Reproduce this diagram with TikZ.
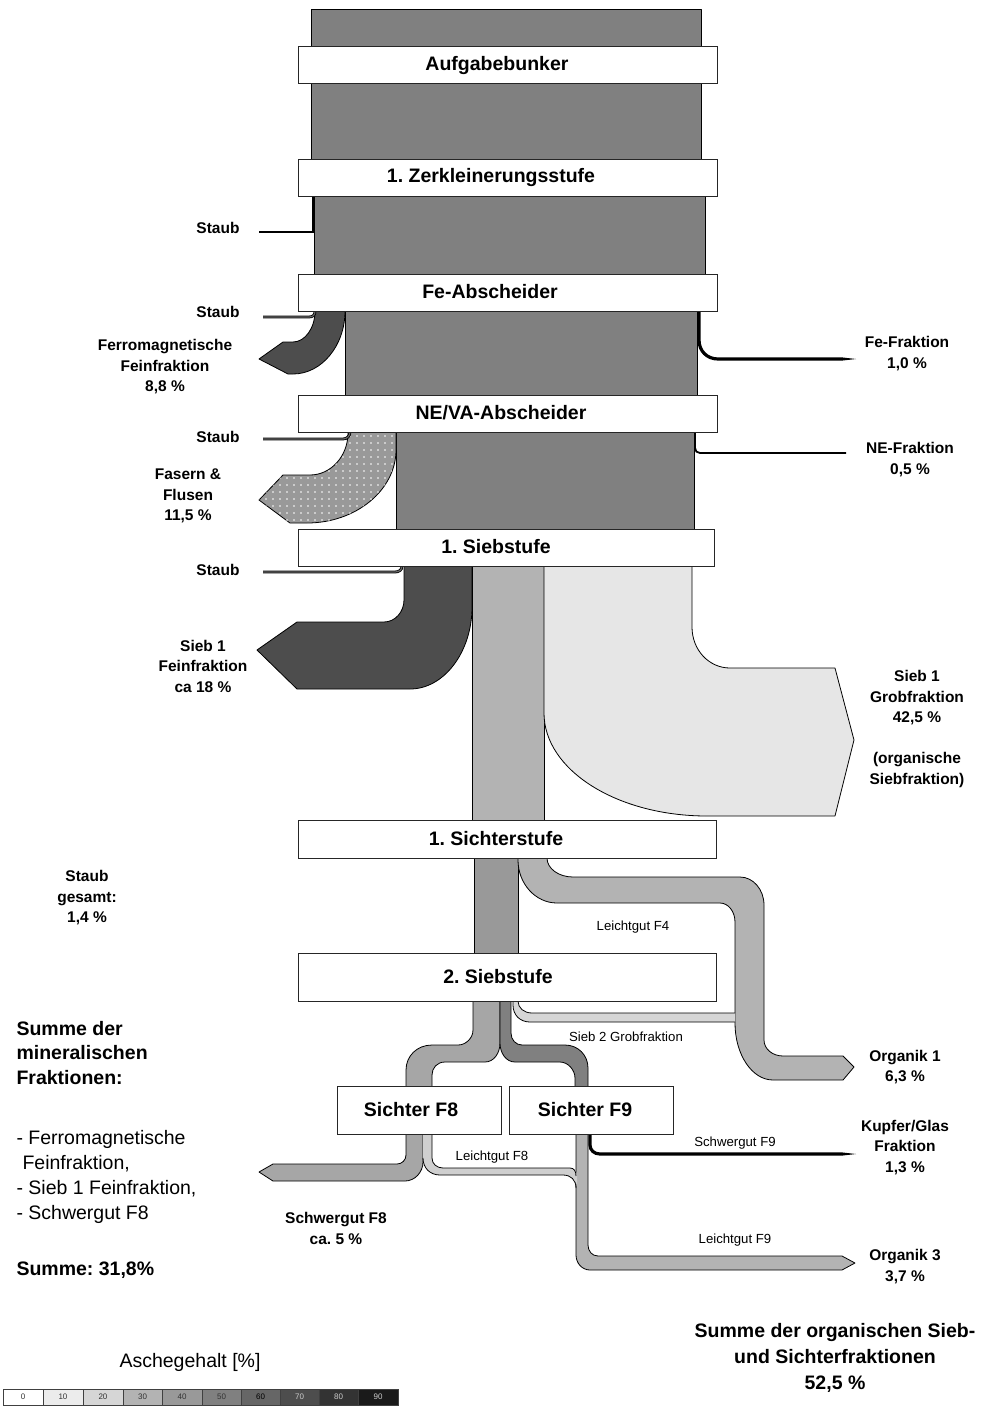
\documentclass[tikz,border=0pt]{standalone}
\usepackage{fontspec}
\setmainfont{Liberation Sans}
\usetikzlibrary{patterns.meta}
\definecolor{g10}{HTML}{ECECEC}
\definecolor{g15}{HTML}{E6E6E6}
\definecolor{g20}{HTML}{D6D6D6}
\definecolor{g25}{HTML}{CFCFCF}
\definecolor{g30}{HTML}{B3B3B3}
\definecolor{g35}{HTML}{A6A6A6}
\definecolor{g40}{HTML}{999999}
\definecolor{g50}{HTML}{808080}
\definecolor{g60}{HTML}{666666}
\definecolor{g70}{HTML}{4D4D4D}
\definecolor{g80}{HTML}{333333}
\definecolor{g90}{HTML}{1A1A1A}
\frenchspacing
\begin{document}
\begin{tikzpicture}[x=1pt,y=-1pt,
  flow/.style={draw=black, line width=0.8pt, line join=round},
  stage/.style={draw=black!85, line width=1pt, fill=white, inner sep=0pt},
  stagetext/.style={font=\fontsize{19.5}{23}\selectfont\bfseries},
  lab/.style={font=\fontsize{15.5}{20.5}\selectfont\bfseries, align=center},
  biglab/.style={font=\fontsize{19.5}{24.5}\selectfont\bfseries, align=left, anchor=west},
  listlab/.style={font=\fontsize{19.5}{25}\selectfont, align=left, anchor=west},
  note/.style={font=\fontsize{13.2}{16}\selectfont},
  dust/.style={draw=black, line width=0.8pt, double=g60, double distance=1.2pt},
  heavy/.style={draw=black, line width=3.2pt, line cap=butt},
  legnum/.style={font=\fontsize{8}{9}\selectfont}
]
\useasboundingbox (0,0) rectangle (990,1409);

% ---- main column ----
\draw[flow, fill=g50] (311,9) rectangle (701,178);
\draw[flow, fill=g50] (314,178) rectangle (705,292);
\draw[flow, fill=g50] (345,292) rectangle (697,413);
\draw[flow, fill=g50] (396,413) rectangle (694,547);

% dust after crushing
\draw[line width=2pt] (313,190) -- (313,232) -- (259,232);

% ferromagnetic fines
\draw[flow, fill=g70] (315,305) -- (345,305) -- (345,311)
  .. controls (345,345.7) and (321.6,374) .. (293,374)
  -- (288,374) -- (259,359) -- (283,342) -- (293,342)
  .. controls (305.1,342) and (315,328) .. (315,311) -- cycle;
\draw[dust] (315,311) .. controls (315,315) and (313,317) .. (309,317) -- (263,317);

% Fe fraction
\draw[heavy] (699,305) -- (699,340) .. controls (699,351) and (707,359) .. (718,359) -- (842,359);
\fill (842,357.4) -- (856,359) -- (842,360.6) -- cycle;

% fibres and lint
\draw[flow, fill=g40, postaction={pattern={Dots[distance=7pt,radius=0.8pt]}, pattern color=white}]
  (348,426) -- (396,426) -- (396,450)
  .. controls (396,490) and (356,523) .. (307,523)
  -- (290,523) -- (259,500) -- (283,475) -- (310,475)
  .. controls (331,475) and (348,456) .. (348,433) -- cycle;
\draw[dust] (350,432) .. controls (350,436) and (347,439) .. (343,439) -- (263,439);

% NE fraction
\draw[line width=1.8pt] (695,426) -- (695,448) .. controls (695,451) and (697,453) .. (700,453) -- (846,453);

% sieve 1 fines
\draw[flow, fill=g70] (404,556) -- (472,556) -- (472,607)
  .. controls (472,652) and (444,689) .. (410,689)
  -- (297,689) -- (257,650) -- (297,622) -- (384,622)
  .. controls (395,622) and (404,612) .. (404,600) -- cycle;
\draw[dust] (402,566) .. controls (402,570) and (399,572) .. (395,572) -- (263,572);

% sieve 1 middle flow
\draw[flow, fill=g30] (472,556) rectangle (544,830);

% sieve 1 coarse fraction
\draw[flow, fill=g15] (544,556) -- (692,556) -- (692,627)
  .. controls (692,650) and (709,668) .. (730,668)
  -- (835,668) -- (854,740) -- (835,816) -- (707,816)
  .. controls (617,816) and (544,770) .. (544,713) -- cycle;

% after classifier 1
\draw[flow, fill=g40] (474,850) rectangle (518,960);
\draw[flow, fill=g30] (518,850) -- (547,850) -- (547,858)
  .. controls (547,868.5) and (558.6,877) .. (573,877) -- (740,877)
  .. controls (753.2,877) and (764,889.5) .. (764,905) -- (764,1040)
  .. controls (764,1049) and (772.5,1056) .. (783,1056)
  -- (843,1056) -- (854,1067) -- (843,1080) -- (773,1080)
  .. controls (752,1080) and (735,1054.5) .. (735,1023) -- (735,922)
  .. controls (735,911.5) and (728.3,903) .. (720,903) -- (557,903)
  .. controls (535.5,903) and (518,883.7) .. (518,860) -- cycle;

% sieve 2 coarse fraction
\fill[g20] (518,995) -- (518,1001) .. controls (518,1008) and (524,1013) .. (532,1013)
  -- (735,1013) -- (735,1022) -- (530,1022)
  .. controls (520,1022) and (513,1015) .. (513,1005) -- (513,995) -- cycle;
\draw[line width=0.8pt] (518,995) -- (518,1001) .. controls (518,1008) and (524,1013) .. (532,1013) -- (735,1013);
\draw[line width=0.8pt] (735,1022) -- (530,1022) .. controls (520,1022) and (513,1015) .. (513,1005) -- (513,995);

% sieve 2 to classifiers F8 and F9
\draw[flow, fill=g35] (473,995) -- (473,1030)
  .. controls (473,1038) and (466,1045) .. (458,1045) -- (432,1045)
  .. controls (417,1045) and (406,1056) .. (406,1070) -- (406,1090)
  -- (432,1090) -- (432,1075)
  .. controls (432,1068) and (437,1062) .. (445,1062) -- (485,1062)
  .. controls (494,1062) and (500,1053) .. (500,1043) -- (500,995) -- cycle;
\draw[flow, fill=g50] (500,995) -- (500,1043)
  .. controls (500,1053) and (506,1062) .. (515,1062) -- (560,1062)
  .. controls (568,1062) and (575,1070) .. (575,1078) -- (575,1090)
  -- (588,1090) -- (588,1068)
  .. controls (588,1055) and (578,1045) .. (565,1045) -- (522,1045)
  .. controls (516,1045) and (511,1040) .. (511,1033) -- (511,995) -- cycle;

% heavy product F8
\draw[flow, fill=g35] (406,1130) -- (406,1155)
  .. controls (406,1160) and (402,1164) .. (397,1164)
  -- (273,1164) -- (259,1172) -- (273,1181) -- (405,1181)
  .. controls (415,1181) and (423,1172) .. (423,1162) -- (423,1130) -- cycle;

% light product F9
\draw[flow, fill=g30] (576,1130) -- (576,1255)
  .. controls (576,1263) and (582,1270) .. (590,1270)
  -- (842,1270) -- (855,1263) -- (842,1256) -- (598,1256)
  .. controls (592,1256) and (588,1251) .. (588,1245) -- (588,1130) -- cycle;

% light product F8
\fill[g25] (432,1130) -- (432,1158) .. controls (432,1164) and (437,1168) .. (443,1168)
  -- (570,1168) .. controls (574,1168) and (577,1171) .. (577,1176) -- (577,1188)
  .. controls (577,1180) and (571,1175) .. (563,1175) -- (440,1175)
  .. controls (430,1175) and (423,1168) .. (423,1158) -- (423,1130) -- cycle;
\draw[line width=0.8pt] (432,1130) -- (432,1158) .. controls (432,1164) and (437,1168) .. (443,1168)
  -- (570,1168) .. controls (574,1168) and (576,1171) .. (576,1176);
\draw[line width=0.8pt] (576,1188) .. controls (576,1180) and (571,1175) .. (563,1175) -- (440,1175)
  .. controls (430,1175) and (423,1168) .. (423,1158);

% heavy product F9
\draw[heavy] (590,1130) -- (590,1145) .. controls (590,1150) and (594,1154) .. (600,1154) -- (842,1154);
\fill (842,1152.4) -- (856,1154) -- (842,1155.6) -- cycle;

% ---- process stages ----
\node[stage, minimum width=419pt, minimum height=37pt] (bunker) at (507.5,64.5) {};
\node[stagetext] (bunkerT) at (497,65) {Aufgabebunker};
\node[stage, minimum width=419pt, minimum height=37pt] (crush) at (507.5,177.5) {};
\node[stagetext] (crushT) at (491,177) {1. Zerkleinerungsstufe};
\node[stage, minimum width=419pt, minimum height=37pt] (fe) at (507.5,292.5) {};
\node[stagetext] (feT) at (490,292) {Fe-Abscheider};
\node[stage, minimum width=419pt, minimum height=37pt] (ne) at (507.5,413.5) {};
\node[stagetext] (neT) at (501,413) {NE/VA-Abscheider};
\node[stage, minimum width=416pt, minimum height=37pt] (sieve1) at (506,547.5) {};
\node[stagetext] (sieve1T) at (496,547) {1. Siebstufe};
\node[stage, minimum width=418pt, minimum height=38pt] (class1) at (507,839) {};
\node[stagetext] (class1T) at (496,839) {1. Sichterstufe};
\node[stage, minimum width=418pt, minimum height=48pt] (sieve2) at (507,977) {};
\node[stagetext] (sieve2T) at (498,977) {2. Siebstufe};
\node[stage, minimum width=164pt, minimum height=48pt] (f8) at (419,1110) {};
\node[stagetext] (f8T) at (411,1110) {Sichter F8};
\node[stage, minimum width=164pt, minimum height=48pt] (f9) at (591,1110) {};
\node[stagetext] (f9T) at (585,1110) {Sichter F9};

% ---- labels ----
\node[lab] (dust1) at (218,228) {Staub};
\node[lab] (dust2) at (218,312) {Staub};
\node[lab] (dust3) at (218,437) {Staub};
\node[lab] (dust4) at (218,570) {Staub};
\node[lab] (ferro) at (165,367) {Ferromagnetische\\Feinfraktion\\8,8 \%};
\node[lab] (feL) at (907,353.5) {Fe-Fraktion\\1,0 \%};
\node[lab] (neL) at (910,459.5) {NE-Fraktion\\0,5 \%};
\node[lab] (fibre) at (188,496) {Fasern \&\\Flusen\\11,5 \%};
\node[lab] (fines1) at (203,666) {Sieb 1\\Feinfraktion\\ca 18 \%};
\node[lab] (coarse1) at (917,729) {Sieb 1\\Grobfraktion\\42,5 \%\\[20.5pt](organische\\Siebfraktion)};
\node[lab] (dustsum) at (87,898) {Staub\\gesamt:\\1,4 \%};
\node[note] (lf4) at (633,927) {Leichtgut F4};
\node[note] (sg2) at (626,1037) {Sieb 2 Grobfraktion};
\node[note] (lf8) at (492,1157) {Leichtgut F8};
\node[note] (sf9) at (735,1143) {Schwergut F9};
\node[note] (lf9) at (735,1240) {Leichtgut F9};
\node[lab] (org1) at (905,1067) {Organik 1\\6,3 \%};
\node[lab] (cu) at (905,1147.5) {Kupfer/Glas\\Fraktion\\1,3 \%};
\node[lab] (org3) at (905,1266.5) {Organik 3\\3,7 \%};
\node[lab] (sf8) at (336,1228.5) {Schwergut F8\\ca. 5 \%};
\node[biglab] (minsum) at (13,1053) {Summe der\\mineralischen\\Fraktionen:};
\node[listlab] (minlist) at (13,1176.5) {- Ferromagnetische\\\hspace*{6pt}Feinfraktion,\\- Sieb 1 Feinfraktion,\\- Schwergut F8};
\node[biglab] (minval) at (13,1270) {Summe: 31,8\%};
\node[font=\fontsize{19.5}{26}\selectfont\bfseries, align=center] (orgsum) at (835,1358) {Summe der organischen Sieb-\\und Sichterfraktionen\\52,5 \%};
\node[font=\fontsize{19.5}{23}\selectfont] (ashT) at (190,1362) {Aschegehalt [\%]};

% ---- ash content scale ----
\foreach \xa/\xb/\c/\t/\tc in {3/43/white/0/black!80, 43/83/g10/10/black!80, 83/123/g20/20/black!80,
    123/162/g30/30/black!80, 162/202/g40/40/black!80, 202/241/g50/50/black!80,
    241/280/g60/60/black, 280/319/g70/70/white!80!black, 319/358/g80/80/white!80!black,
    358/398/g90/90/white!80!black}{
  \draw[draw=black!75, line width=0.6pt, fill=\c] (\xa,1389) rectangle (\xb,1405);
  \node[legnum, text=\tc] (leg\t) at ({(\xa+\xb)/2},1397) {\t};
}
\end{tikzpicture}
\end{document}
